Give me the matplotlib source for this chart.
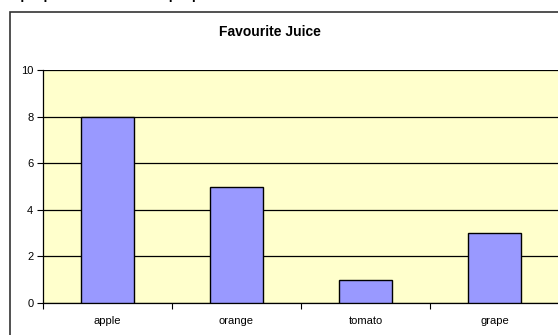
import matplotlib
matplotlib.use("Agg")
import matplotlib.pyplot as plt
from matplotlib.patches import Rectangle

plt.rcParams['font.family'] = ['Liberation Sans', 'DejaVu Sans']

juices = ["apple", "orange", "tomato", "grape"]
votes = [8, 5, 1, 3]
y_ticks = [0, 2, 4, 6, 8, 10]

W, H = 558, 335
fig = plt.figure(figsize=(W / 100, H / 100), dpi=100)

# partly cut-off line of text above the chart (only its lowest part shows)
fig.text(20 / W, 1 + 2 / H, "popular to least popular.", fontsize=15,
         ha="left", va="baseline", color="black")

# outer chart frame (continues past right and bottom edges)
fig.patches.append(Rectangle((9.5 / W, -0.1), 1.0, 1 - 11.5 / H + 0.1,
                             transform=fig.transFigure, fill=False,
                             edgecolor="#333333", linewidth=1.2))

ax = fig.add_axes([43 / W, 1 - 303 / H, (559 - 43) / W, (303 - 70) / H])
ax.set_facecolor("#FFFFCC")
x = range(len(juices))
ax.bar(x, votes, width=0.41, color="#9999FF", edgecolor="black",
       linewidth=1.0, zorder=3)

ax.set_xlim(-0.5, len(juices) - 0.5)
ax.set_ylim(0, 10)
ax.set_yticks(y_ticks)
ax.yaxis.grid(True, color="black", linewidth=0.9, zorder=1)
ax.set_axisbelow(True)

ax.set_xticks([i - 0.5 for i in range(len(juices) + 1)])
ax.set_xticklabels([])
ax.set_xticks(list(x), minor=True)
ax.set_xticklabels(juices, minor=True, fontsize=8)
ax.tick_params(axis="x", which="minor", length=0, pad=9)
ax.tick_params(axis="x", which="major", length=4, width=0.8, direction="out")
ax.tick_params(axis="y", length=4, width=0.8, labelsize=8, pad=3)

for side in ["top", "right"]:
    ax.spines[side].set_visible(False)
ax.spines["left"].set_linewidth(0.9)
ax.spines["bottom"].set_linewidth(0.9)

fig.text(270 / W, 1 - 32 / H, "Favourite Juice", fontsize=10,
         fontweight="bold", ha="center", va="center")

fig.savefig("out.png", dpi=100)
